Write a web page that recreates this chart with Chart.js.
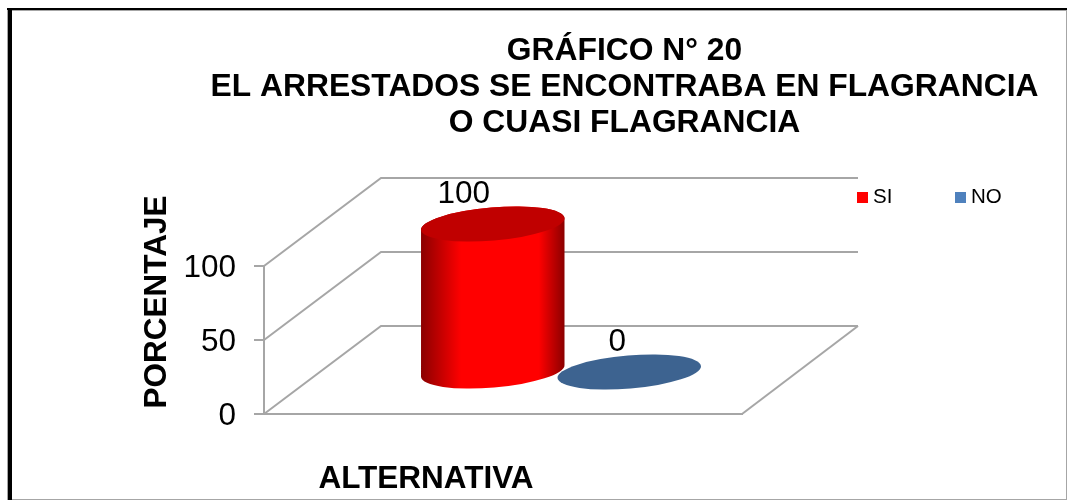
<!DOCTYPE html>
<html>
<head>
<meta charset="utf-8">
<title>Gráfico 20</title>
<style>
html, body { margin: 0; padding: 0; background: #fff; overflow: hidden; }
canvas { display: block; }
</style>
</head>
<body>
<canvas id="chart" width="1067" height="500"></canvas>
<script src="https://cdn.jsdelivr.net/npm/chart.js@4"></script>
<script>
const titleLines = ['GRÁFICO N° 20', 'EL ARRESTADOS SE ENCONTRABA EN FLAGRANCIA', 'O CUASI FLAGRANCIA'];
const categories = ['ALTERNATIVA'];
const seriesNames = ['SI', 'NO'];
const siValues = [100];
const noValues = [0];
const yTickValues = [0, 50, 100];
const yAxisTitle = 'PORCENTAJE';
const xAxisTitle = 'ALTERNATIVA';

const fontFamily = '"Liberation Sans", Arial, sans-serif';
const gridColor = '#a6a6a6';
// how far the back wall sits behind the front plane
const depthX = 117;
const depthY = 88;
// the cylinders stand half way into the floor
const barDepthX = 58;
const barDepthY = 42;
const labelShift = [-29, -12];
const tilt = -4.8 * Math.PI / 180;

// grey walls and floor, built from the y scale
const walls = {
    id: 'walls',
    beforeDatasetsDraw(chart) {
        let { ctx, chartArea, scales } = chart;
        ctx.save();
        ctx.strokeStyle = gridColor;
        ctx.lineWidth = 2;
        scales.y.ticks.forEach(tick => {
            let y = scales.y.getPixelForValue(tick.value);
            ctx.beginPath();
            ctx.moveTo(chartArea.left, y);
            ctx.lineTo(chartArea.left + depthX, y - depthY);
            ctx.lineTo(chartArea.right + depthX - 1, y - depthY);
            ctx.stroke();
        });
        ctx.beginPath();
        ctx.moveTo(chartArea.right, chartArea.bottom);
        ctx.lineTo(chartArea.right + depthX - 1, chartArea.bottom - depthY);
        ctx.stroke();
        ctx.restore();
    }
};

let drawCylinder = (ctx, bar, side, dark, lid) => {
    let cx = bar.x + barDepthX;
    let baseY = bar.base - barDepthY;
    let topY = bar.y - barDepthY;
    let a = bar.width / 2;
    let b = 16.5;
    if (baseY - topY > 0.5) {
        let shade = ctx.createLinearGradient(cx - a, 0, cx + a, 0);
        shade.addColorStop(0, dark);
        shade.addColorStop(0.28, side);
        shade.addColorStop(0.82, side);
        shade.addColorStop(1, dark);
        ctx.beginPath();
        ctx.ellipse(cx, baseY, a, b, tilt, 0, Math.PI);
        ctx.ellipse(cx, topY, a, b, tilt, Math.PI, 2 * Math.PI);
        ctx.closePath();
        ctx.fillStyle = shade;
        ctx.fill();
    }
    ctx.beginPath();
    ctx.ellipse(cx, topY, a, b, tilt, 0, 2 * Math.PI);
    ctx.fillStyle = lid;
    ctx.fill();
};

// real bars are replaced by cylinders placed with the bar elements' own positions
const cylinders = {
    id: 'cylinders',
    beforeDatasetsDraw(chart) {
        let { ctx } = chart;
        ctx.save();
        for (let i = chart.data.datasets.length - 1; i >= 0; i--) {
            let ds = chart.data.datasets[i];
            let bar = chart.getDatasetMeta(i).data[0];
            drawCylinder(ctx, bar, ds.sideColor, ds.darkColor, ds.lidColor);
        }
        chart.data.datasets.forEach((ds, i) => {
            let bar = chart.getDatasetMeta(i).data[0];
            ctx.fillStyle = '#000';
            ctx.font = '31.5px ' + fontFamily;
            ctx.textAlign = 'center';
            ctx.textBaseline = 'middle';
            ctx.fillText(ds.data[0], bar.x + barDepthX + labelShift[i], bar.y - barDepthY - 30);
        });
        ctx.restore();
        return false;
    }
};

// page frame, axis titles and legend sit off centre so they go here
const decorations = {
    id: 'decorations',
    afterLayout(chart) {
        chart.titleBlock.left = 182;
        chart.titleBlock.right = 1067;
    },
    beforeDraw(chart) {
        let { ctx } = chart;
        ctx.save();
        ctx.fillStyle = '#fff';
        ctx.fillRect(0, 0, 1067, 500);
        ctx.fillStyle = '#a6a6a6';
        ctx.fillRect(7, 8, 1060, 3);
        ctx.fillRect(7, 8, 5, 492);
        ctx.fillRect(1066, 8, 1, 492);
        ctx.fillRect(7, 499, 1060, 1);
        ctx.fillStyle = '#000';
        ctx.fillRect(7, 8, 1060, 2);
        ctx.fillRect(8, 8, 4, 492);
        ctx.restore();
    },
    afterDraw(chart) {
        let { ctx } = chart;
        ctx.save();
        ctx.fillStyle = '#000';
        ctx.font = 'bold 31.5px ' + fontFamily;
        ctx.textAlign = 'center';
        ctx.textBaseline = 'middle';
        ctx.fillText(xAxisTitle, 426, 479);
        ctx.save();
        ctx.translate(157, 302);
        ctx.rotate(-Math.PI / 2);
        ctx.fillText(yAxisTitle, 0, 0);
        ctx.restore();
        ctx.textAlign = 'left';
        ctx.font = '20.5px ' + fontFamily;
        [857, 955].forEach((x, i) => {
            let ds = chart.data.datasets[i];
            ctx.fillStyle = ds.backgroundColor;
            ctx.fillRect(x, 192, 11, 11);
            ctx.fillStyle = '#000';
            ctx.fillText(ds.label, x + 16, 197);
        });
        ctx.restore();
    }
};

const chart = new Chart(document.getElementById('chart'), {
    type: 'bar',
    data: {
        labels: categories,
        datasets: [
            { label: seriesNames[0], data: siValues, backgroundColor: '#ff0000', sideColor: '#ff0000', darkColor: '#8a0000', lidColor: '#c00000' },
            { label: seriesNames[1], data: noValues, backgroundColor: '#4f81bd', sideColor: '#4f81bd', darkColor: '#2c4d75', lidColor: '#3d6390' }
        ]
    },
    plugins: [decorations, walls, cylinders],
    options: {
        responsive: false,
        animation: false,
        categoryPercentage: 0.571,
        barPercentage: 1.055,
        layout: { padding: { left: 0, right: 325, top: 0, bottom: 0 } },
        plugins: {
            legend: { display: false },
            tooltip: { enabled: false },
            title: {
                display: true,
                text: titleLines,
                color: '#000',
                font: { family: fontFamily, size: 31.8, weight: 'bold', lineHeight: '36px' },
                padding: { top: 33, bottom: 125 }
            }
        },
        scales: {
            x: {
                grid: { display: false },
                border: { color: gridColor, width: 2 },
                ticks: { display: false },
                afterFit: scale => { scale.height = 86; }
            },
            y: {
                min: 0,
                max: 100,
                afterBuildTicks: scale => { scale.ticks = yTickValues.map(value => ({ value })); },
                grid: { drawOnChartArea: false, drawTicks: true, tickLength: 10, color: gridColor, lineWidth: 2 },
                border: { color: gridColor, width: 2 },
                ticks: { color: '#000', padding: 18, labelOffset: 2, font: { family: fontFamily, size: 31.5 } },
                afterFit: scale => { scale.width = 264; }
            }
        }
    }
});
</script>
</body>
</html>
